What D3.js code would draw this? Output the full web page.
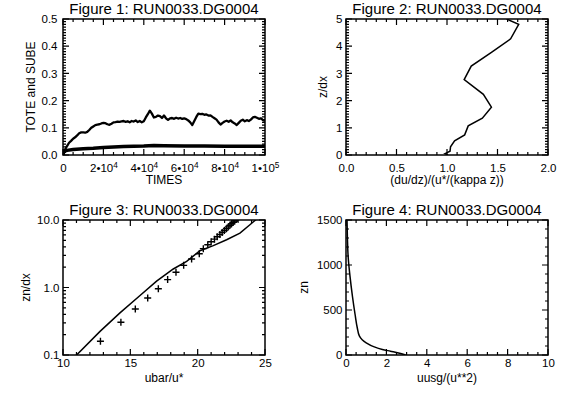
<!DOCTYPE html>
<html><head><meta charset="utf-8">
<script src="https://cdn.jsdelivr.net/npm/d3@7/dist/d3.min.js"></script>
<style>
body{margin:0;background:#fff}
svg{display:block}
text{font-family:"Liberation Sans",Arial,Helvetica,sans-serif;fill:#000}
</style>
</head><body>
<svg id="c" width="566" height="396"></svg>
<script>
// ---------------- DATA ----------------
const titles = ["Figure 1: RUN0033.DG0004","Figure 2: RUN0033.DG0004","Figure 3: RUN0033.DG0004","Figure 4: RUN0033.DG0004"];

// Figure 1
const fig1Times = [0,1000,2000,3000,4000,5000,6000,7000,8000,9000,10000,11000,12000,13000,14000,15000,16000,17000,18000,19000,20000,21000,22000,23000,24000,25000,26000,27000,28000,29000,30000,31000,32000,33000,34000,35000,36000,37000,38000,39000,40000,41000,42000,43000,44000,45000,46000,47000,48000,49000,50000,51000,52000,53000,54000,55000,56000,57000,58000,59000,60000,61000,62000,63000,64000,65000,66000,67000,68000,69000,70000,71000,72000,73000,74000,75000,76000,77000,78000,79000,80000,81000,82000,83000,84000,85000,86000,87000,88000,89000,90000,91000,92000,93000,94000,95000,96000,97000,98000,99000,100000];
const fig1Tote = [0.0,0.02,0.033,0.045,0.052,0.06,0.065,0.072,0.08,0.083,0.083,0.082,0.085,0.092,0.1,0.105,0.11,0.112,0.113,0.116,0.118,0.117,0.113,0.111,0.115,0.12,0.121,0.123,0.122,0.124,0.125,0.122,0.124,0.12,0.125,0.123,0.127,0.121,0.125,0.12,0.124,0.138,0.15,0.163,0.152,0.138,0.14,0.145,0.143,0.136,0.145,0.135,0.129,0.135,0.136,0.133,0.137,0.134,0.136,0.133,0.135,0.132,0.127,0.12,0.11,0.125,0.14,0.152,0.15,0.151,0.148,0.149,0.145,0.146,0.14,0.135,0.13,0.12,0.112,0.118,0.123,0.126,0.122,0.127,0.12,0.116,0.11,0.118,0.126,0.13,0.124,0.128,0.125,0.13,0.138,0.14,0.137,0.133,0.135,0.128,0.125];
const fig1SubeTimes = [0,300,800,2000,5000,10000,15000,20000,30000,40000,45000,50000,60000,70000,80000,90000,100000];
const fig1Sube = [0.0,0.01,0.014,0.017,0.02,0.023,0.025,0.028,0.031,0.033,0.035,0.034,0.033,0.033,0.032,0.032,0.032];
const fig1XTicks = [0,20000,40000,60000,80000,100000];
const fig1XTickLabels = ["0","2•10^4","4•10^4","6•10^4","8•10^4","1•10^5"];
const fig1YTicks = [0,0.1,0.2,0.3,0.4,0.5];
const fig1YTickLabels = ["0.0","0.1","0.2","0.3","0.4","0.5"];

// Figure 2
const fig2Ratio = [1.01,0.98,1.03,1.035,1.075,1.175,1.21,1.35,1.44,1.36,1.17,1.24,1.44,1.63,1.71,1.59];
const fig2Z     = [0.0,0.05,0.14,0.3,0.52,0.74,1.07,1.35,1.76,2.23,2.77,3.27,3.77,4.27,4.8,5.0];
const fig2XTicks = [0,0.5,1.0,1.5,2.0];
const fig2XTickLabels = ["0.0","0.5","1.0","1.5","2.0"];
const fig2YTicks = [0,1,2,3,4,5];
const fig2YTickLabels = ["0","1","2","3","4","5"];

// Figure 3
const fig3LineU = [10.9,12.75,14.23,15.72,16.95,18.19,19.18,20.17,21.16,22.15,23.14,23.88,24.4];
const fig3LineZ = [0.095,0.224,0.42,0.76,1.24,1.88,2.44,3.5,4.17,5.1,6.4,8.5,10.4];
const fig3MarkU = [12.78,14.3,15.37,16.29,17.08,17.77,18.39,18.96,19.55,20.12,20.42,20.75,21.0,21.25,21.45,21.65,21.82,21.98,22.13,22.27,22.4,22.52,22.64,22.75,22.86,22.96];
const fig3MarkZ = [0.16,0.305,0.48,0.70,0.96,1.31,1.68,2.13,2.64,3.17,3.76,4.3,4.75,5.2,5.65,6.1,6.55,7.0,7.45,7.9,8.35,8.8,9.25,9.7,10.15,10.6];
const fig3XTicks = [10,15,20,25];
const fig3XTickLabels = ["10","15","20","25"];
const fig3YTicks = [0.1,1,10];
const fig3YTickLabels = ["0.1","1.0","10.0"];

// Figure 4
const fig4X  = [2.95,2.6,2.2,1.8,1.4,1.0,0.8,0.66,0.56,0.45,0.32,0.2,0.11,0.07,0.05];
const fig4Zn = [0,22,42,62,90,135,170,212,300,450,650,870,1080,1300,1500];
const fig4XTicks = [0,2,4,6,8,10];
const fig4XTickLabels = ["0","2","4","6","8","10"];
const fig4YTicks = [0,500,1000,1500];
const fig4YTickLabels = ["0","500","1000","1500"];

// ---------------- DRAW ----------------
const svg = d3.select("#c");
const MAJ = 6, MIN = 3;

function panel(o){
  const g = svg.append("g");
  const x = o.x, y = o.y;
  const [L,R] = x.range(), [B,T] = y.range();
  const id = "clip"+o.idx;
  svg.append("clipPath").attr("id",id).append("rect").attr("x",L).attr("y",T).attr("width",R-L).attr("height",B-T);

  const fmt = labs => (d,i)=>labs[i];
  const gb = g.append("g").attr("transform",`translate(0,${B})`)
    .call(d3.axisBottom(x).tickValues(o.xt).tickSize(0).tickPadding(o.xpad).tickFormat(fmt(o.xl)));
  gb.select(".domain").remove();
  gb.selectAll("text").attr("font-size",o.fs).attr("fill","#000").each(function(d,i){
    const s = o.xl[i], t = d3.select(this);
    if(s.indexOf("^")>=0){
      const [b,p] = s.split("^");
      t.text(null);
      t.append("tspan").text(b);
      t.append("tspan").attr("dy","-0.45em").attr("font-size",o.fs*0.72).text(p);
    }
  });
  const gl = g.append("g").attr("transform",`translate(${L},0)`)
    .call(d3.axisLeft(y).tickValues(o.yt).tickSize(0).tickPadding(o.ypad).tickFormat(fmt(o.yl)));
  gl.select(".domain").remove();
  gl.selectAll("text").attr("font-size",o.fs).attr("fill","#000");

  // inward tick marks on all four sides
  const xt = [...o.xt.map(v=>[v,MAJ]), ...o.xm.map(v=>[v,MIN])];
  const yt = [...o.yt.map(v=>[v,MAJ]), ...o.ym.map(v=>[v,MIN])];
  let d = "";
  xt.forEach(([v,len])=>{
    const px = x(v);
    d += `M${px},${B}V${B-len}M${px},${T}V${T+len}`;
  });
  yt.forEach(([v,len])=>{
    const py = y(v);
    d += `M${L},${py}H${L+len}M${R},${py}H${R-len}`;
  });
  g.append("path").attr("d",d).attr("fill","none").attr("stroke","#000").attr("stroke-width",1.2);
  // frame
  g.append("rect").attr("x",L).attr("y",T).attr("width",R-L).attr("height",B-T)
    .attr("fill","none").attr("stroke","#000").attr("stroke-width",1.5);
  // titles
  g.append("text").attr("x",(L+R)/2).attr("y",T-5).attr("text-anchor","middle").attr("font-size",15).text(o.title);
  g.append("text").attr("x",(L+R)/2).attr("y",o.xtY).attr("text-anchor","middle").attr("font-size",12).text(o.xtitle);
  g.append("text").attr("transform",`translate(${L-o.ytOff},${(T+B)/2}) rotate(-90)`).attr("text-anchor","middle").attr("font-size",12).text(o.ytitle);
  return g.append("g").attr("clip-path",`url(#${id})`);
}

// Panel 1
{
  const x = d3.scaleLinear().domain([0,100000]).range([63,265]);
  const y = d3.scaleLinear().domain([0,0.5]).range([155,19]);
  const g = panel({idx:1,x,y,xt:fig1XTicks,xl:fig1XTickLabels,xm:d3.range(5000,100000,5000),
    yt:fig1YTicks,yl:fig1YTickLabels,ym:d3.range(0.01,0.5,0.01),fs:11.5,xpad:8.5,ypad:5.5,
    title:titles[0],xtitle:"TIMES",ytitle:"TOTE and SUBE",xtY:184,ytOff:28});
  const line = d3.line().x(d=>x(d[0])).y(d=>y(d[1]));
  g.append("path").attr("d",line(d3.zip(fig1SubeTimes,fig1Sube))).attr("fill","none").attr("stroke","#000").attr("stroke-width",3.5);
  g.append("path").attr("d",line(d3.zip(fig1Times,fig1Tote))).attr("fill","none").attr("stroke","#000").attr("stroke-width",2.3).attr("stroke-linejoin","round");
}
// Panel 2
{
  const x = d3.scaleLinear().domain([0,2]).range([346,548]);
  const y = d3.scaleLinear().domain([0,5]).range([155,19]);
  const g = panel({idx:2,x,y,xt:fig2XTicks,xl:fig2XTickLabels,xm:d3.range(0.1,2,0.1),
    yt:fig2YTicks,yl:fig2YTickLabels,ym:d3.range(0.1,5,0.1),fs:11.5,xpad:8.5,ypad:3.5,
    title:titles[1],xtitle:"(du/dz)/(u*/(kappa z))",ytitle:"z/dx",xtY:184,ytOff:19});
  const line = d3.line().x(d=>x(d[0])).y(d=>y(d[1]));
  g.append("path").attr("d",line(d3.zip(fig2Ratio,fig2Z))).attr("fill","none").attr("stroke","#000").attr("stroke-width",1.5);
}
// Panel 3
{
  const x = d3.scaleLinear().domain([10,25]).range([63,265]);
  const y = d3.scaleLog().domain([0.1,10]).range([355,220]);
  const ym = [0.2,0.3,0.4,0.5,0.6,0.7,0.8,0.9,2,3,4,5,6,7,8,9];
  const g = panel({idx:3,x,y,xt:fig3XTicks,xl:fig3XTickLabels,xm:d3.range(11,25,1),
    yt:fig3YTicks,yl:fig3YTickLabels,ym,fs:11.5,xpad:4,ypad:3.5,
    title:titles[2],xtitle:"ubar/u*",ytitle:"zn/dx",xtY:382,ytOff:33});
  const line = d3.line().x(d=>x(d[0])).y(d=>y(d[1]));
  g.append("path").attr("d",line(d3.zip(fig3LineU,fig3LineZ))).attr("fill","none").attr("stroke","#000").attr("stroke-width",1.5);
  const pts = d3.zip(fig3MarkU,fig3MarkZ);
  g.selectAll(".pm").data(pts).enter().append("path")
    .attr("d",d=>`M${x(d[0])-3.5},${y(d[1])}h7M${x(d[0])},${y(d[1])-3.5}v7`)
    .attr("stroke","#000").attr("stroke-width",1.4).attr("fill","none");
}
// Panel 4
{
  const x = d3.scaleLinear().domain([0,10]).range([346,548]);
  const y = d3.scaleLinear().domain([0,1500]).range([355,220]);
  const g = panel({idx:4,x,y,xt:fig4XTicks,xl:fig4XTickLabels,xm:d3.range(0.5,10,0.5),
    yt:fig4YTicks,yl:fig4YTickLabels,ym:d3.range(100,1500,100),fs:11.5,xpad:4,ypad:3.5,
    title:titles[3],xtitle:"uusg/(u**2)",ytitle:"zn",xtY:382,ytOff:38});
  const line = d3.line().x(d=>x(d[0])).y(d=>y(d[1])).curve(d3.curveMonotoneY);
  g.append("path").attr("d",line(d3.zip(fig4X,fig4Zn))).attr("fill","none").attr("stroke","#000").attr("stroke-width",1.5);
}
</script>
</body></html>
